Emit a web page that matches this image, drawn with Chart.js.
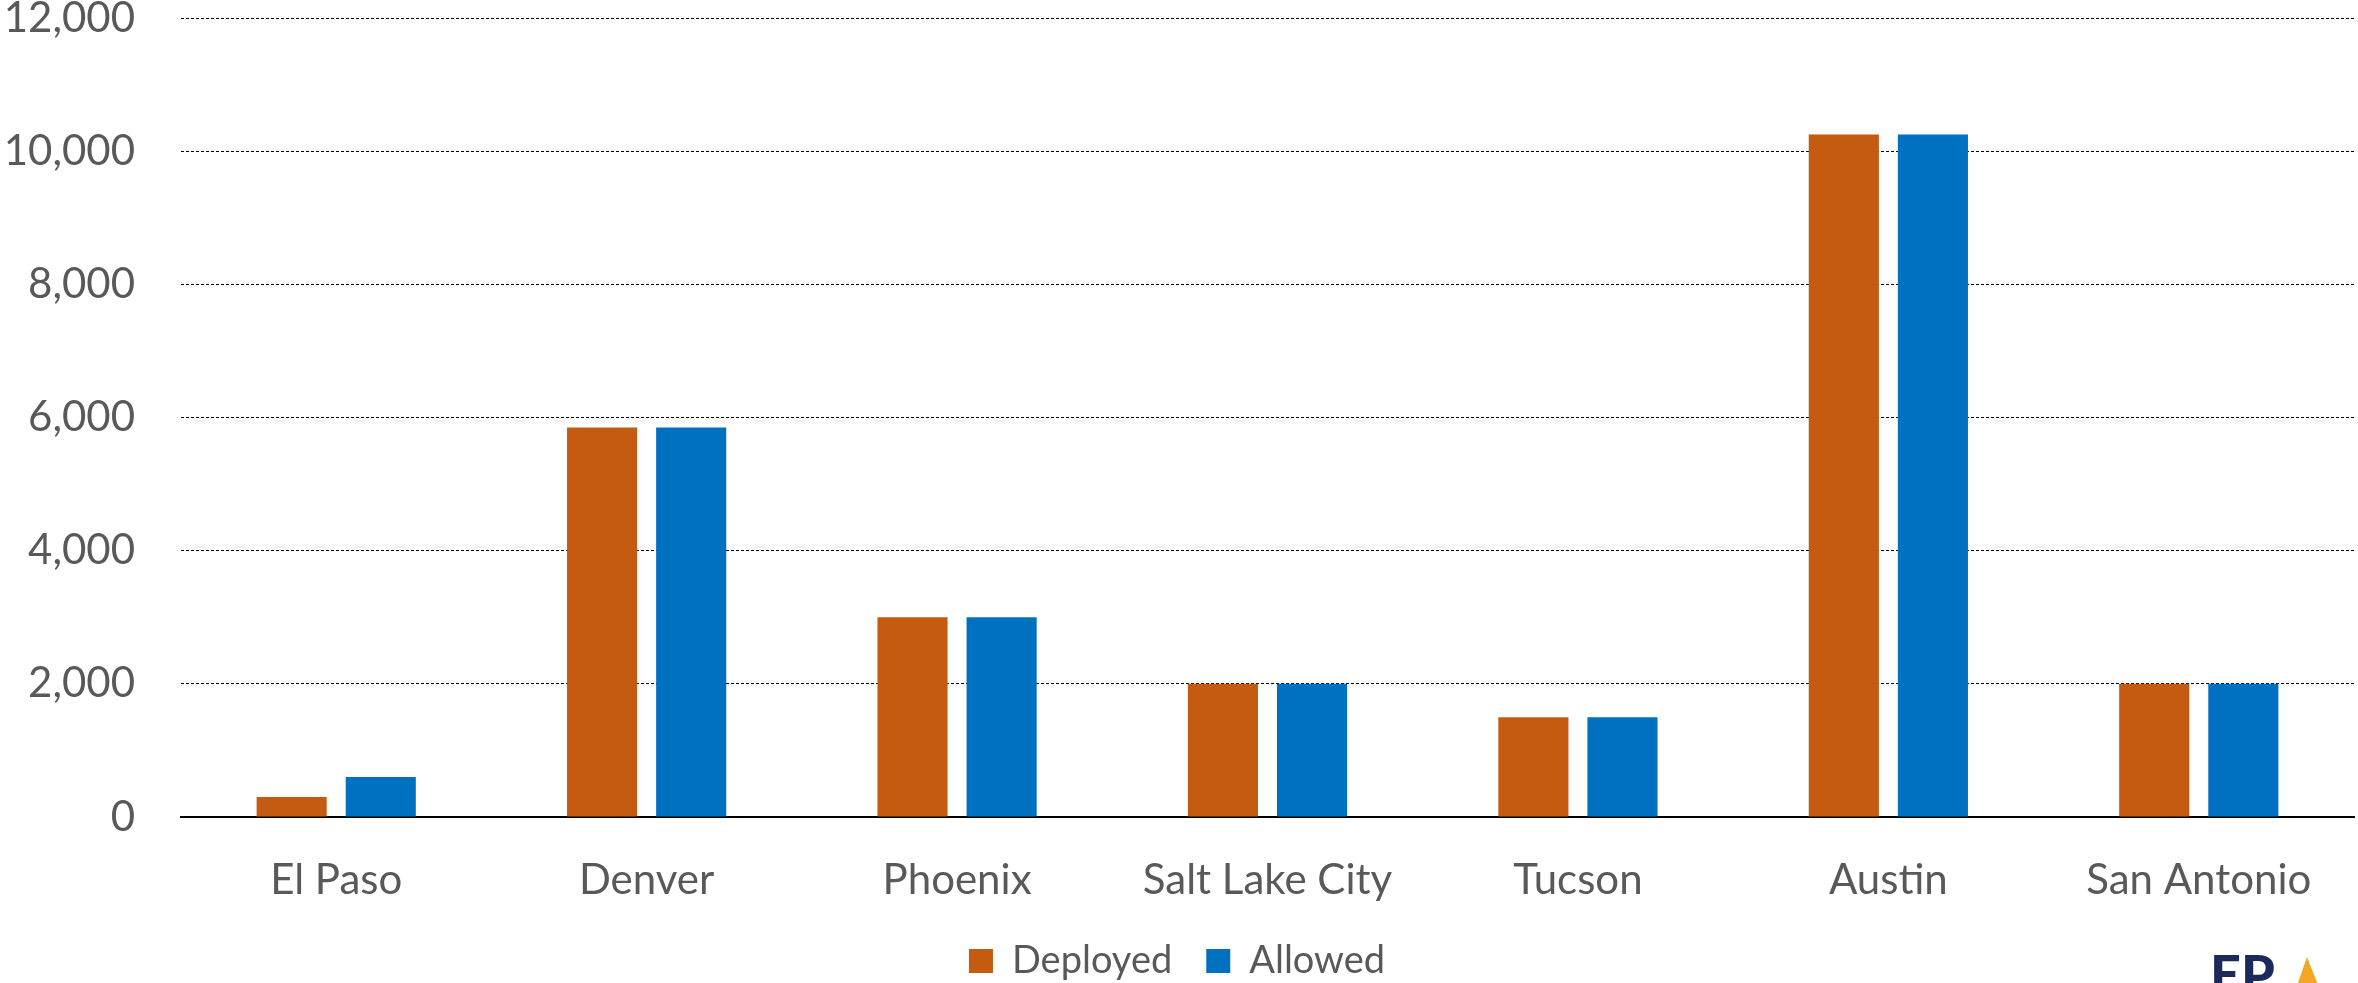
<!DOCTYPE html>
<html>
<head>
<meta charset="utf-8">
<script src="https://cdn.jsdelivr.net/npm/chart.js@4"></script>
<style>
html,body{margin:0;padding:0;background:#fff;}
#wrap{width:2358px;height:983px;position:relative;}
</style>
</head>
<body>
<div id="wrap"><canvas id="c" width="2358" height="983"></canvas></div>
<script>
const categories = ["El Paso", "Denver", "Phoenix", "Salt Lake City", "Tucson", "Austin", "San Antonio"];
const deployed = [300, 5850, 3000, 2000, 1500, 10250, 2000];
const allowed = [600, 5850, 3000, 2000, 1500, 10250, 2000];
const seriesNames = ["Deployed", "Allowed"];
const yTicks = [0, 2000, 4000, 6000, 8000, 10000, 12000];

const TEXT = "#595959";
const FONT = "Lato, 'Open Sans', sans-serif";

const logoPlugin = {
  id: "logo",
  afterDraw(chart) {
    const ctx = chart.ctx;
    ctx.save();
    ctx.fillStyle = "#1b2a5a";
    ctx.font = "900 54px " + FONT;
    ctx.textBaseline = "top";
    ctx.fillText("EP", 2210, 950);
    ctx.fillStyle = "#f5a623";
    ctx.beginPath();
    ctx.moveTo(2307, 957);
    ctx.lineTo(2292, 1000);
    ctx.lineTo(2324, 1000);
    ctx.closePath();
    ctx.fill();
    ctx.restore();
  }
};

new Chart(document.getElementById("c"), {
  type: "bar",
  data: {
    labels: categories,
    datasets: [
      { label: seriesNames[0], data: deployed, backgroundColor: "#C55A11", borderWidth: 0 },
      { label: seriesNames[1], data: allowed, backgroundColor: "#0070C0", borderWidth: 0 }
    ]
  },
  options: {
    responsive: false,
    animation: false,
    devicePixelRatio: 1,
    layout: { padding: { top: 18, right: 4, left: 0, bottom: -7 } },
    datasets: { bar: { categoryPercentage: 0.574, barPercentage: 0.787 } },
    plugins: {
      legend: {
        position: "bottom",
        labels: {
          font: { family: FONT, size: 38 },
          color: TEXT,
          boxWidth: 24,
          boxHeight: 24,
          padding: 34
        }
      },
      tooltip: { enabled: false }
    },
    scales: {
      x: {
        grid: { display: false, drawTicks: false },
        border: { display: true, color: "#000", width: 2 },
        ticks: { font: { family: FONT, size: 42 }, color: TEXT, padding: 38, maxRotation: 0 },
        afterFit(s) { s.height = 91; s.paddingLeft = 0; s.paddingRight = 0; }
      },
      y: {
        min: 0, max: 12000,
        afterBuildTicks(s) { s.ticks = yTicks.map(v => ({ value: v })); },
        grid: { color: "#000", lineWidth: 1, drawTicks: false },
        border: { display: false, dash: [3, 2] },
        ticks: {
          font: { family: FONT, size: 42 },
          color: TEXT,
          padding: 46,
          callback: v => v.toLocaleString("en-US")
        },
        afterFit(s) { s.width = 181; s.paddingTop = 0; s.paddingBottom = 0; }
      }
    }
  },
  plugins: [logoPlugin]
});
</script>
</body>
</html>
